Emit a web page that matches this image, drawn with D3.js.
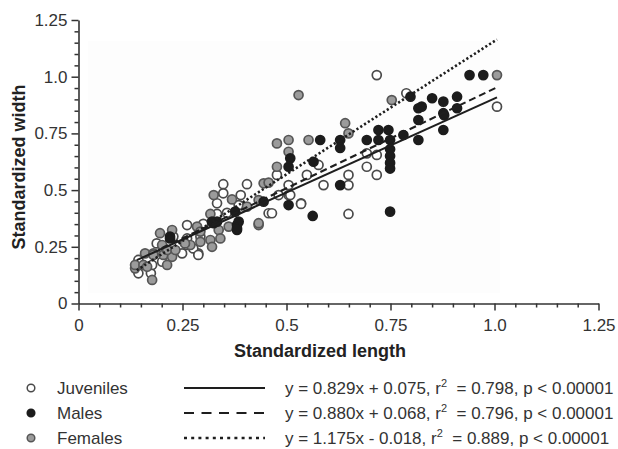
<!DOCTYPE html>
<html>
<head>
<meta charset="utf-8">
<script src="https://cdn.jsdelivr.net/npm/d3@7"></script>
<style>
  html, body { margin: 0; padding: 0; background: #fff; }
  svg { display: block; font-family: "Liberation Sans", Arial, Helvetica, sans-serif; }
</style>
</head>
<body>
<svg id="chart" width="618" height="449"></svg>
<script>
// Standardized length (x) vs standardized width (y) for three groups.
const juveniles = [
  [0.144,0.133],[0.174,0.133],[0.177,0.170],[0.144,0.192],[0.201,0.184],[0.249,0.221],
  [0.288,0.221],[0.261,0.258],[0.261,0.346],[0.300,0.346],[0.293,0.295],[0.188,0.265],
  [0.204,0.236],[0.228,0.295],[0.261,0.287],[0.276,0.243],[0.288,0.214],
  [0.348,0.526],[0.405,0.526],[0.390,0.478],[0.348,0.486],[0.333,0.442],[0.385,0.434],
  [0.357,0.400],[0.333,0.395],[0.300,0.351],[0.457,0.398],[0.535,0.442],[0.481,0.478],
  [0.505,0.478],
  [0.717,1.007],[0.693,0.662],[0.717,0.655],[0.717,0.567],[0.693,0.603],[0.649,0.567],
  [0.649,0.522],[0.589,0.522],[0.577,0.611],[0.549,0.567],[0.477,0.567],[0.505,0.522],
  [0.509,0.478],[0.535,0.439],[0.465,0.398],[0.649,0.395],
  [0.788,0.927],[1.006,0.868]
];
const males = [
  [0.220,0.295],[0.325,0.354],[0.381,0.346],[0.381,0.324],
  [0.445,0.449],[0.377,0.405],[0.385,0.361],[0.381,0.332],[0.333,0.361],[0.321,0.361],
  [0.220,0.287],
  [0.581,0.721],[0.629,0.721],[0.629,0.686],[0.509,0.640],[0.505,0.603],[0.565,0.625],
  [0.693,0.721],[0.721,0.765],[0.745,0.765],[0.721,0.721],[0.749,0.721],[0.749,0.680],
  [0.749,0.650],[0.749,0.620],[0.749,0.595],[0.629,0.522],[0.505,0.434],[0.563,0.386],
  [0.749,0.405],
  [0.798,0.912],[0.850,0.905],[0.817,0.861],[0.877,0.890],[0.910,0.912],[0.817,0.809],
  [0.877,0.839],[0.910,0.861],[0.781,0.743],[0.877,0.765],[0.817,0.721],[0.940,1.007],
  [0.973,1.007],[0.825,0.868],[0.879,0.830]
];
const females = [
  [0.136,0.155],[0.136,0.170],[0.156,0.170],[0.165,0.162],[0.160,0.221],[0.201,0.258],
  [0.204,0.214],[0.225,0.206],[0.269,0.258],[0.337,0.324],[0.317,0.280],[0.433,0.346],
  [0.213,0.236],[0.180,0.221],[0.213,0.170],[0.177,0.104],
  [0.445,0.530],[0.457,0.533],[0.325,0.478],[0.369,0.459],[0.433,0.456],[0.405,0.427],
  [0.317,0.395],[0.285,0.339],[0.361,0.339],[0.433,0.354],[0.196,0.310],[0.225,0.324],
  [0.293,0.317],[0.293,0.272],[0.256,0.265],[0.233,0.236],[0.180,0.214],[0.321,0.250],
  [0.341,0.287],
  [0.529,0.919],[0.641,0.795],[0.649,0.750],[0.753,0.897],[0.477,0.706],[0.505,0.721],
  [0.553,0.721],[0.505,0.669],[0.477,0.603],
  [1.006,1.007]
];

// Regression fits: slope, intercept and the x range each line covers.
const fitSlopes = [0.829, 0.880, 1.175];
const fitIntercepts = [0.075, 0.068, -0.018];
const fitRanges = [[0.14, 1.006], [0.20, 1.006], [0.14, 1.006]];
const groupNames = ["Juveniles", "Males", "Females"];
const fitLabels = [
  ["y = 0.829x + 0.075, r", "  = 0.798, p < 0.00001"],
  ["y = 0.880x + 0.068, r", "  = 0.796, p < 0.00001"],
  ["y = 1.175x - 0.018, r", "  = 0.889, p < 0.00001"]
];

const majorTicks = [0, 0.25, 0.5, 0.75, 1.0, 1.25];
const tickLabels = ["0", "0.25", "0.5", "0.75", "1.0", "1.25"];
const minorTicks = d3.range(0, 1.2501, 0.05).map(v => +v.toFixed(2));

const svg = d3.select("#chart");
const x = d3.scaleLinear().domain([0, 1.25]).range([78.5, 598.5]);
const y = d3.scaleLinear().domain([0, 1.25]).range([303.5, 20]);

// faint plotting backdrop
svg.append("rect").attr("x", 88).attr("y", 41).attr("width", 412).attr("height", 252)
  .attr("fill", "#fdfdfd");

const styles = [
  { fill: "#ffffff", stroke: "#4a4a4a", dash: null, legendDash: null },
  { fill: "#1c1c1c", stroke: "#1c1c1c", dash: "7,4", legendDash: "10,7.5" },
  { fill: "#9b9b9b", stroke: "#565656", dash: "2.2,2.3", legendDash: "3,4.2" }
];
const groups = [juveniles, males, females];

// axes
const fmt = (d) => tickLabels[majorTicks.indexOf(d)];
const xAxis = svg.append("g").attr("transform", `translate(0,${y(0)})`)
  .call(d3.axisBottom(x).tickValues(majorTicks).tickFormat(fmt).tickSize(7).tickSizeOuter(0).tickPadding(8));
const xMinor = svg.append("g").attr("transform", `translate(0,${y(0)})`)
  .call(d3.axisBottom(x).tickValues(minorTicks.filter(v => !majorTicks.includes(v))).tickFormat("").tickSize(4).tickSizeOuter(0));
const yAxis = svg.append("g").attr("transform", `translate(${x(0)},0)`)
  .call(d3.axisLeft(y).tickValues(majorTicks).tickFormat(fmt).tickSize(7).tickSizeOuter(0).tickPadding(4));
const yMinor = svg.append("g").attr("transform", `translate(${x(0)},0)`)
  .call(d3.axisLeft(y).tickValues(minorTicks.filter(v => !majorTicks.includes(v))).tickFormat("").tickSize(4).tickSizeOuter(0));
xMinor.select(".domain").remove();
yMinor.select(".domain").remove();
[xAxis, xMinor, yAxis, yMinor].forEach(g => {
  g.selectAll("path.domain").attr("stroke", "#333").attr("stroke-width", 1.6);
  g.selectAll(".tick line").attr("stroke", "#333").attr("stroke-width", 1.5);
  g.selectAll(".tick text").attr("fill", "#333").style("font-size", "17px")
    .style("font-family", "'Liberation Sans', Arial, sans-serif");
});

// axis titles
svg.append("text").attr("x", 320).attr("y", 357).attr("text-anchor", "middle")
  .attr("font-weight", "bold").attr("font-size", 18).attr("fill", "#222")
  .text("Standardized length");
svg.append("text").attr("transform", "translate(25,167) rotate(-90)").attr("text-anchor", "middle")
  .attr("font-weight", "bold").attr("font-size", 18).attr("fill", "#222")
  .text("Standardized width");

// points
const drawOrder = [0, 2, 1];
drawOrder.forEach(i => {
  svg.append("g").selectAll("circle").data(groups[i]).join("circle")
    .attr("cx", d => x(d[0])).attr("cy", d => y(d[1])).attr("r", 4.5)
    .attr("fill", styles[i].fill).attr("stroke", styles[i].stroke).attr("stroke-width", 1.7);
});

// regression lines
fitSlopes.forEach((m, i) => {
  const [x0, x1] = fitRanges[i];
  const line = svg.append("line")
    .attr("x1", x(x0)).attr("y1", y(m * x0 + fitIntercepts[i]))
    .attr("x2", x(x1)).attr("y2", y(m * x1 + fitIntercepts[i]))
    .attr("stroke", "#1e1e1e").attr("stroke-width", i === 2 ? 2.6 : 2.1);
  if (styles[i].dash) line.attr("stroke-dasharray", styles[i].dash);
});

// legend
const legendY = [388, 413, 438];
groupNames.forEach((name, i) => {
  const ly = legendY[i];
  svg.append("circle").attr("cx", 31).attr("cy", ly).attr("r", 3.8)
    .attr("fill", styles[i].fill).attr("stroke", styles[i].stroke).attr("stroke-width", 1.5);
  svg.append("text").attr("x", 57).attr("y", ly + 6).attr("font-size", 17).attr("fill", "#333").text(name);
  const l = svg.append("line").attr("x1", 184).attr("x2", 265).attr("y1", ly).attr("y2", ly)
    .attr("stroke", "#1e1e1e").attr("stroke-width", i === 2 ? 2.6 : 2.1);
  if (styles[i].legendDash) l.attr("stroke-dasharray", styles[i].legendDash);
  const t = svg.append("text").attr("x", 285).attr("y", ly + 6).attr("font-size", 17).attr("fill", "#333")
    .attr("xml:space", "preserve").style("white-space", "pre");
  t.append("tspan").text(fitLabels[i][0]);
  t.append("tspan").attr("dy", -7).attr("font-size", 11).text("2");
  t.append("tspan").attr("dy", 7).text(fitLabels[i][1]);
});
</script>
</body>
</html>
